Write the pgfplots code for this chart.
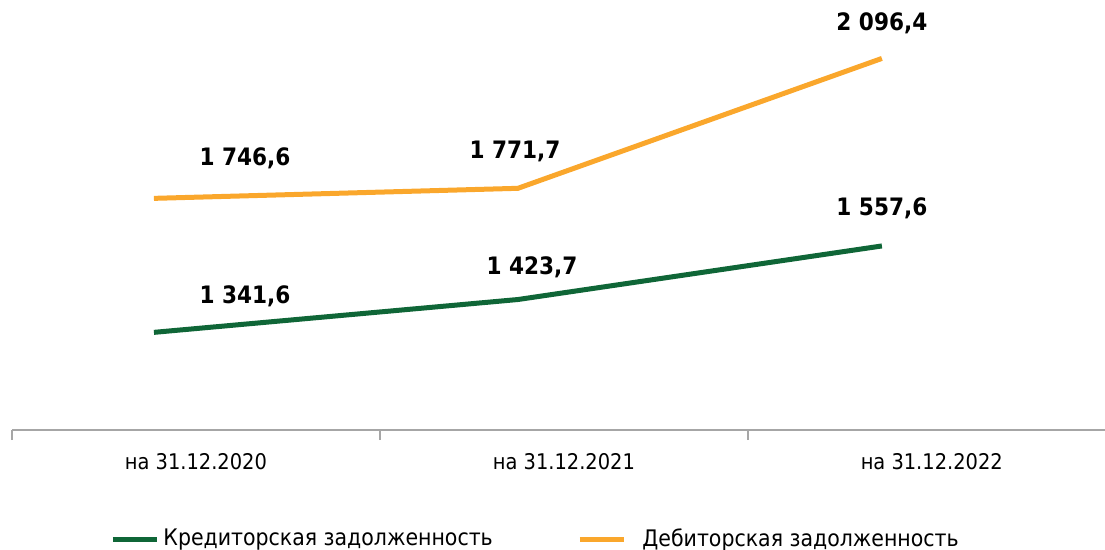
\documentclass[border=0pt]{standalone}
\usepackage{pgfplots}
\pgfplotsset{compat=1.18}
\usepackage{pgfplotstable}
\usepackage{fontspec}
\setmainfont{DejaVu Sans Condensed}
\definecolor{credgreen}{HTML}{0F6637}
\definecolor{deborange}{HTML}{FAA72C}
\definecolor{axisgray}{HTML}{A6A6A6}

% x: 0,1,2 = dates; dx/dy = label shift in bp
\pgfplotstableread{
x y dx dy
0 1341.6 45.5 0
1 1423.7 7 -2
2 1557.6 0 1
}\credit
\pgfplotstableread{
x y dx dy
0 1746.6 45.5 2
1 1771.7 -1.5 0.5
2 2096.4 0 -0.5
}\debit

\pgfplotsset{
  common/.style={
    scale only axis,
    width=546.5bp, height=215bp,
    xmin=-0.390, xmax=2.613,
    clip=false,
    /pgf/number format/assume math mode=true,
    nodes near coords={\pgfmathprintnumber[fixed, fixed zerofill, precision=1, use comma, 1000 sep={\ }]{\pgfplotspointmeta}},
    every node near coord/.append style={black, font=\fontsize{12bp}{14bp}\selectfont\bfseries, anchor=center, xshift=\dx bp, yshift=18bp+\dy bp},
    visualization depends on={\thisrow{dx} \as \dx},
    visualization depends on={\thisrow{dy} \as \dy},
  },
}

\begin{document}
\begin{tikzpicture}
\useasboundingbox (-6bp,-60bp) rectangle (546.5bp,215bp);
% green series
\begin{axis}[
  common,
  ymin=1097.5, ymax=2172.5,
  axis x line*=bottom,
  hide y axis,
  x axis line style={axisgray, line width=0.75bp, -},
  xtick={0.1154,1.1264,2.137},
  xticklabels={на 31.12.2020, на 31.12.2021, на 31.12.2022},
  major tick length=0pt,
  xticklabel style={font=\fontsize{10.8bp}{13bp}\selectfont, yshift=-8bp},
  extra x ticks={-0.390,0.621,1.632},
  extra x tick labels={},
  extra x tick style={major tick length=5bp, tick style={axisgray, line width=0.75bp}, tick align=outside},
]
\addplot[credgreen, line width=2.5bp, no markers] table[x=x, y=y] {\credit};
\end{axis}
% orange series
\begin{axis}[
  common,
  ymin=1167.5, ymax=2242.5,
  hide axis,
  legend columns=2,
  legend style={at={(rel axis cs:0.0897,-0.2535)}, anchor=west, draw=none, inner sep=0pt,
    font=\fontsize{11.4bp}{14bp}\selectfont, column sep=0pt},
  legend image code/.code={\draw[#1] (0bp,0bp) -- (22bp,0bp);},
]
\addlegendimage{credgreen, line width=2.5bp}
\addlegendentry{\makebox[205bp][l]{Кредиторская задолженность}}
\addplot[deborange, line width=2.5bp, no markers] table[x=x, y=y] {\debit};
\addlegendentry{\hspace{6bp}Дебиторская задолженность}
\end{axis}
\end{tikzpicture}
\end{document}
